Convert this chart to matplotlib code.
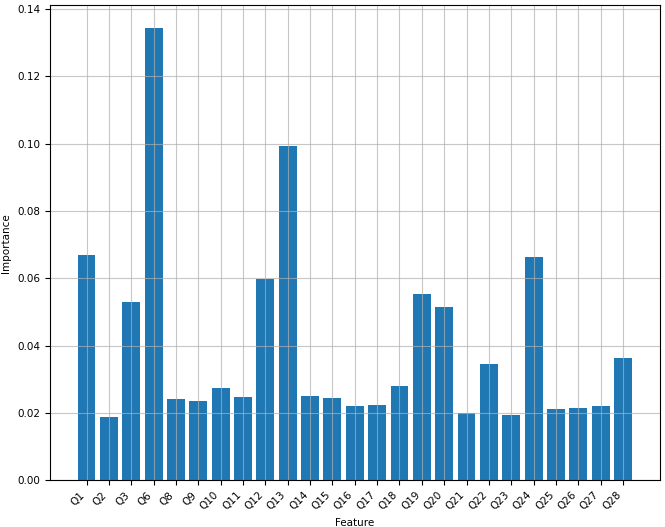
import matplotlib
matplotlib.use("Agg")
import matplotlib.pyplot as plt

features = ["Q1", "Q2", "Q3", "Q6", "Q8", "Q9", "Q10", "Q11", "Q12", "Q13", "Q14",
            "Q15", "Q16", "Q17", "Q18", "Q19", "Q20", "Q21", "Q22", "Q23", "Q24",
            "Q25", "Q26", "Q27", "Q28"]
importance = [0.0669, 0.0189, 0.0528, 0.1344, 0.0242, 0.0236, 0.0274, 0.0248, 0.0598,
              0.0993, 0.0251, 0.0245, 0.0221, 0.0224, 0.0280, 0.0554, 0.0513, 0.0200,
              0.0345, 0.0192, 0.0663, 0.0212, 0.0215, 0.0221, 0.0363]

plt.rcParams['font.size'] = 7.5
fig = plt.figure(figsize=(6.65, 5.27), dpi=100)
ax = fig.add_axes([0.075, 0.089, 0.917, 0.901])
ax.bar(features, importance, color="#1f77b4")
ax.grid(True, color="#b0b0b0", alpha=0.7)
ax.set_xlabel("Feature")
ax.set_ylabel("Importance")
plt.setp(ax.get_xticklabels(), rotation=45, ha="right")
fig.savefig("out.png", dpi=100)
